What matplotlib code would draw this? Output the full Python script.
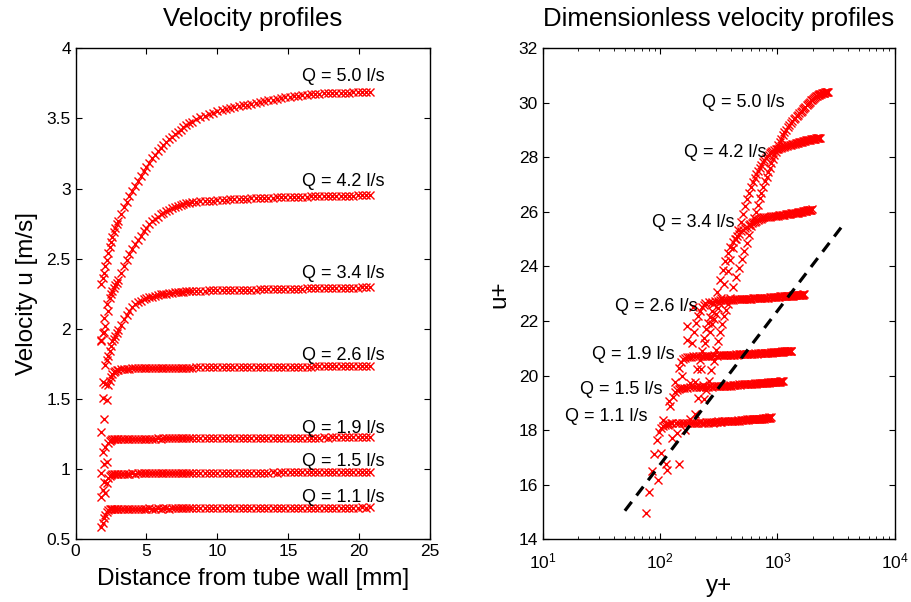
import numpy as np
import matplotlib
matplotlib.use('Agg')
import matplotlib.pyplot as plt

plt.rcParams['font.family'] = ['Liberation Sans', 'DejaVu Sans']
plt.rcParams['mathtext.fontset'] = 'custom'
plt.rcParams['mathtext.rm'] = 'Liberation Sans'

# measurement positions (distance from tube wall, mm)
dist_mm = [1.8, 1.9, 2.0, 2.1, 2.2, 2.3, 2.4, 2.5, 2.6, 2.7, 2.8, 2.9, 3.0,
           3.2, 3.4, 3.6, 3.8, 4.0, 4.2, 4.4, 4.6, 4.8, 5.0, 5.2, 5.4, 5.6,
           5.8, 6.0, 6.2, 6.4, 6.6, 6.8, 7.0, 7.2, 7.4, 7.6, 7.8, 8.0,
           8.2, 8.5, 8.8, 9.1, 9.4, 9.7, 10.0,
           10.3, 10.6, 10.9, 11.2, 11.5, 11.8, 12.1,
           12.4, 12.7, 13.0, 13.3, 13.6, 13.9, 14.2,
           14.5, 14.8, 15.1, 15.4, 15.7, 16.0, 16.3,
           16.6, 16.9, 17.2, 17.5, 17.8, 18.1, 18.4,
           18.7, 19.0, 19.3, 19.6, 19.9, 20.2, 20.5,
           20.8]

# velocity u [m/s] at each position, one list per flow rate
u_11 = [0.590, 0.620, 0.650, 0.675, 0.695, 0.707, 0.713, 0.716, 0.717, 0.718, 0.718, 0.719, 0.719,
        0.719, 0.719, 0.720, 0.719, 0.720,
        0.720, 0.719, 0.720, 0.720, 0.720,
        0.721, 0.720, 0.720, 0.721, 0.720,
        0.721, 0.721, 0.720, 0.721, 0.721,
        0.721, 0.722, 0.721, 0.721, 0.722,
        0.722, 0.722, 0.722, 0.723, 0.722, 0.723, 0.723,
        0.723, 0.723, 0.724, 0.723, 0.724, 0.724, 0.724,
        0.724, 0.724, 0.725, 0.724, 0.725, 0.725, 0.725,
        0.725, 0.725, 0.725, 0.726, 0.725, 0.726, 0.726,
        0.726, 0.726, 0.726, 0.726, 0.727, 0.726, 0.727,
        0.727, 0.727, 0.727, 0.727, 0.727, 0.728, 0.727,
        0.728]

u_15 = [0.800, 0.850, 0.910, 0.830, 0.900, 0.935, 0.952, 0.960, 0.964, 0.966, 0.967, 0.968, 0.968,
        0.968, 0.969, 0.969, 0.969, 0.970,
        0.969, 0.970, 0.970, 0.970, 0.971,
        0.970, 0.971, 0.971, 0.971, 0.971,
        0.972, 0.971, 0.972, 0.972, 0.972,
        0.972, 0.973, 0.972, 0.973, 0.973,
        0.973, 0.973, 0.974, 0.973, 0.974, 0.974, 0.974,
        0.975, 0.974, 0.975, 0.975, 0.975, 0.975, 0.976,
        0.975, 0.976, 0.976, 0.976, 0.976, 0.977, 0.976,
        0.977, 0.977, 0.977, 0.977, 0.978, 0.977, 0.978,
        0.978, 0.978, 0.978, 0.978, 0.979, 0.978, 0.979,
        0.979, 0.979, 0.979, 0.980, 0.979, 0.980, 0.980,
        0.980]

u_19 = [0.970, 1.120, 1.040, 1.160, 1.050, 1.190, 1.203, 1.209, 1.212, 1.214, 1.215, 1.215, 1.216,
        1.216, 1.216, 1.217, 1.216, 1.217,
        1.217, 1.217, 1.218, 1.217, 1.218,
        1.218, 1.218, 1.218, 1.219, 1.218,
        1.219, 1.219, 1.219, 1.219, 1.220,
        1.219, 1.220, 1.220, 1.220, 1.220,
        1.220, 1.221, 1.220, 1.221, 1.221, 1.221, 1.221,
        1.222, 1.221, 1.222, 1.222, 1.222, 1.222, 1.223,
        1.222, 1.223, 1.223, 1.223, 1.223, 1.224, 1.223,
        1.224, 1.224, 1.224, 1.224, 1.225, 1.224, 1.225,
        1.225, 1.225, 1.225, 1.226, 1.225, 1.226, 1.226,
        1.226, 1.226, 1.227, 1.226, 1.227, 1.227, 1.227,
        1.227]

u_26 = [1.265, 1.510, 1.360, 1.610, 1.490, 1.600, 1.630, 1.655, 1.675, 1.690, 1.700, 1.706, 1.710,
        1.713, 1.715, 1.716, 1.717, 1.718,
        1.718, 1.719, 1.719, 1.720, 1.720,
        1.720, 1.721, 1.721, 1.721, 1.722,
        1.722, 1.722, 1.722, 1.723, 1.723,
        1.723, 1.723, 1.724, 1.724, 1.724,
        1.724, 1.725, 1.725, 1.725, 1.726, 1.726, 1.726,
        1.726, 1.727, 1.727, 1.727, 1.727, 1.728, 1.728,
        1.728, 1.728, 1.729, 1.729, 1.729, 1.729, 1.730,
        1.730, 1.730, 1.730, 1.730, 1.731, 1.731, 1.731,
        1.731, 1.732, 1.732, 1.732, 1.732, 1.733, 1.733,
        1.733, 1.733, 1.734, 1.734, 1.734, 1.734, 1.735,
        1.735]

u_34 = [1.920, 1.620, 1.980, 1.740, 1.780, 1.810, 1.840, 1.880, 1.910, 1.930, 1.950, 1.970, 1.990,
        2.030, 2.070, 2.100, 2.130, 2.155,
        2.175, 2.190, 2.200, 2.210, 2.218,
        2.225, 2.230, 2.235, 2.240, 2.245,
        2.248, 2.251, 2.254, 2.257, 2.260,
        2.262, 2.264, 2.266, 2.268, 2.270,
        2.271, 2.272, 2.272, 2.273, 2.274, 2.274, 2.275,
        2.276, 2.276, 2.277, 2.277, 2.278, 2.279, 2.279,
        2.280, 2.280, 2.281, 2.282, 2.282, 2.283, 2.283,
        2.284, 2.285, 2.285, 2.286, 2.286, 2.287, 2.288,
        2.288, 2.289, 2.289, 2.290, 2.291, 2.291, 2.292,
        2.292, 2.293, 2.293, 2.294, 2.294, 2.295, 2.295,
        2.296]

u_42 = [1.910, 1.970, 2.080, 2.020, 2.180, 2.130, 2.220, 2.250, 2.270, 2.290, 2.310, 2.330, 2.350,
        2.400, 2.450, 2.490, 2.535, 2.570,
        2.605, 2.635, 2.665, 2.695, 2.720,
        2.745, 2.765, 2.785, 2.800, 2.815,
        2.828, 2.840, 2.850, 2.860, 2.868,
        2.876, 2.883, 2.889, 2.894, 2.898,
        2.902, 2.905, 2.908, 2.910, 2.912, 2.914, 2.916,
        2.918, 2.920, 2.922, 2.923, 2.925, 2.926, 2.928,
        2.929, 2.930, 2.932, 2.933, 2.934, 2.935, 2.936,
        2.937, 2.938, 2.939, 2.940, 2.941, 2.942, 2.943,
        2.944, 2.944, 2.945, 2.946, 2.947, 2.947, 2.948,
        2.949, 2.949, 2.950, 2.950, 2.951, 2.951, 2.952,
        2.952]

u_50 = [2.320, 2.360, 2.400, 2.450, 2.490, 2.540, 2.580, 2.620, 2.655, 2.690, 2.720, 2.745, 2.770,
        2.820, 2.865, 2.905, 2.945, 2.980,
        3.015, 3.050, 3.090, 3.125, 3.155,
        3.185, 3.215, 3.240, 3.265, 3.290,
        3.310, 3.330, 3.350, 3.370, 3.390,
        3.405, 3.420, 3.435, 3.450, 3.465,
        3.477, 3.495, 3.508, 3.520, 3.530, 3.540, 3.550,
        3.558, 3.565, 3.572, 3.579, 3.586, 3.592, 3.598,
        3.604, 3.610, 3.616, 3.622, 3.628, 3.634, 3.639,
        3.644, 3.649, 3.653, 3.657, 3.661, 3.664, 3.667,
        3.670, 3.673, 3.675, 3.677, 3.679, 3.680, 3.681,
        3.682, 3.683, 3.684, 3.685, 3.686, 3.687, 3.687,
        3.688]

profiles = [u_11, u_15, u_19, u_26, u_34, u_42, u_50]
q_labels = ['Q = 1.1 l/s', 'Q = 1.5 l/s', 'Q = 1.9 l/s', 'Q = 2.6 l/s',
            'Q = 3.4 l/s', 'Q = 4.2 l/s', 'Q = 5.0 l/s']

# friction velocity per flow rate [m/s] and kinematic viscosity [m^2/s]
u_tau = [0.0394, 0.0495, 0.0587, 0.0755, 0.0880, 0.1028, 0.1213]
nu = 0.93e-6

# log-law reference line (y+, u+)
yplus_law = [50, 3750]
uplus_law = [15.05, 25.6]

# label positions
lbl_left_x = 16.0
lbl_left_u = [0.80, 1.056, 1.291, 1.811, 2.396, 3.047, 3.795]
lbl_right_yplus = [78.5, 105, 133, 209, 433, 813, 1156]
lbl_right_uplus = [18.5, 19.49, 20.77, 22.53, 25.6, 28.16, 30.0]

fig = plt.figure(figsize=(9.11, 6.02), dpi=100)
ax1 = fig.add_axes([0.083, 0.104, 0.389, 0.816])
ax2 = fig.add_axes([0.596, 0.104, 0.386, 0.816])

dist = np.array(dist_mm)
for u, ut in zip(profiles, u_tau):
    u = np.array(u)
    ax1.plot(dist, u, 'x', color='red', ms=6.2, mew=1.0)
    yplus = dist * 1e-3 * ut / nu
    ax2.plot(yplus, u / ut, 'x', color='red', ms=6.2, mew=1.0)

ax2.plot(yplus_law, uplus_law, '--', color='black', lw=2.3, dashes=(3.5, 2.5))

for lab, uy in zip(q_labels, lbl_left_u):
    ax1.text(lbl_left_x, uy, lab, fontsize=13, ha='left', va='center')
for lab, xp, yp in zip(q_labels, lbl_right_yplus, lbl_right_uplus):
    ax2.text(xp, yp, lab, fontsize=13, ha='right', va='center')

# left: velocity profiles
ax1.set_xlim(0, 25)
ax1.set_ylim(0.5, 4)
ax1.set_xticks([0, 5, 10, 15, 20, 25])
ax1.set_yticks([0.5, 1, 1.5, 2, 2.5, 3, 3.5, 4])
ax1.set_yticklabels(['0.5', '1', '1.5', '2', '2.5', '3', '3.5', '4'])
ax1.set_title('Velocity profiles', fontsize=18.5, pad=16)
ax1.set_xlabel('Distance from tube wall [mm]', fontsize=17.5, labelpad=6)
ax1.set_ylabel('Velocity u [m/s]', fontsize=17.5, labelpad=6)

# right: dimensionless profiles
ax2.set_xscale('log')
ax2.set_xlim(10, 1e4)
ax2.set_ylim(14, 32)
ax2.set_yticks(range(14, 33, 2))
ax2.set_title('Dimensionless velocity profiles', fontsize=18.5, pad=16)
ax2.set_xlabel('y+', fontsize=17.5, labelpad=2)
ax2.set_ylabel('u+', fontsize=17.5, labelpad=6)

for ax in (ax1, ax2):
    ax.tick_params(which='major', direction='in', top=True, right=True,
                   length=4, width=0.8, labelsize=12.5)
    ax.tick_params(which='minor', direction='in', top=True, right=True,
                   length=2, width=0.6)
    for s in ax.spines.values():
        s.set_linewidth(1.0)
ax2.tick_params(axis='x', which='major', pad=9)

fig.savefig('out.png', dpi=100)
